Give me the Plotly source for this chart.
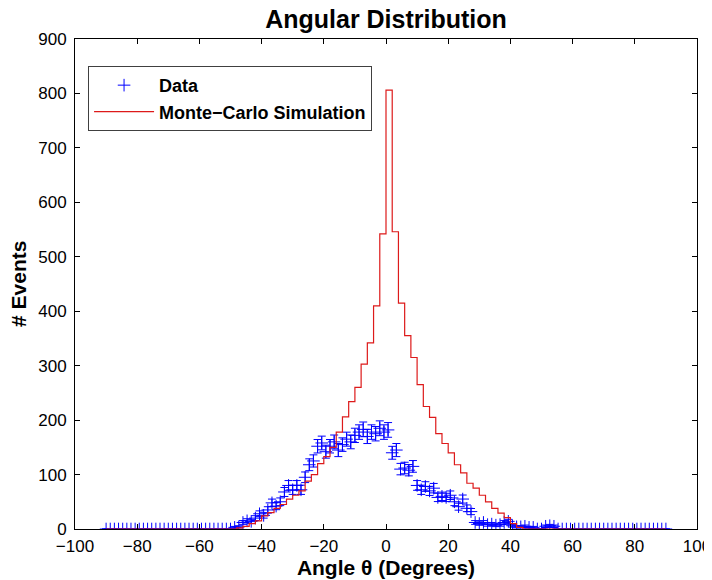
import math
import plotly.graph_objects as go

# ---- Data -----------------------------------------------------------------
# Monte-Carlo histogram: 2-degree bins from -90 to 90 (left edges)
mc_bin_left = list(range(-90, 90, 2))
mc_counts = [0] * 21 + [
    2, 5, 10, 15, 24, 30, 38, 45, 55, 62,
    70, 88, 100, 120, 133, 150, 178, 206, 234, 260,
    303, 342, 410, 542, 806, 546, 415, 355, 315, 265,
    225, 205, 175, 157, 140, 118, 103, 84, 75, 62,
    50, 38, 29, 21, 10, 3,
] + [0] * 23

# Measured data: points every 4/3 degree from -90 to 90
data_angle = [round(-90 + 4 * k / 3, 3) for k in range(136)]
data_counts = [0] * 31 + [
    3, 4, 12, 15, 14, 20, 28, 25, 35, 48,
    42, 50, 68, 80, 72, 80, 72, 95, 118, 125,
    152, 158, 142, 152, 160, 145, 155, 165, 160, 172,
    178, 183, 170, 178, 175, 185, 178, 182, 140, 145,
    110, 112, 108, 115, 80, 72, 78, 70, 75, 58,
    60, 58, 62, 50, 41, 55, 38, 32, 12, 10,
    12, 8, 9, 7, 8, 12, 14, 6, 4, 4,
    5, 3, 3, 0, 0, 5, 6, 5, 0,
]
data_counts += [0] * (len(data_angle) - len(data_counts))
data_err = [math.sqrt(v) for v in data_counts]

x_ticks = list(range(-100, 101, 20))
y_ticks = list(range(0, 901, 100))

# ---- Figure ---------------------------------------------------------------
FONT = "Liberation Sans, Arial, sans-serif"

mc_x = mc_bin_left + [mc_bin_left[-1] + 2]
mc_y = mc_counts + [mc_counts[-1]]

fig = go.Figure()
fig.add_trace(go.Scatter(
    x=data_angle, y=data_counts, mode="markers", name="Data",
    marker=dict(symbol="cross-thin", size=9, color="#0000ff",
                line=dict(color="#0000ff", width=1)),
    error_y=dict(type="data", array=data_err, visible=True,
                 color="#0000ff", thickness=1, width=4),
))
fig.add_trace(go.Scatter(
    x=mc_x, y=mc_y, mode="lines", name="Monte\u2212Carlo Simulation",
    line=dict(color="#dd1a1a", width=1.2, shape="hv"),
))

# the page body adds an 8px offset, so the figure is 704x572
fig.update_layout(
    width=704, height=572,
    margin=dict(l=67, r=15, t=31, b=51),
    paper_bgcolor="white", plot_bgcolor="white",
    font=dict(family=FONT, size=17, color="black"),
    title=dict(text="Angular Distribution", x=0.5, xanchor="center",
               xref="paper", y=1 - 11 / 572, yref="container",
               yanchor="middle",
               font=dict(size=25, weight="bold", family=FONT)),
    legend=dict(x=0.021, y=0.945, xanchor="left", yanchor="top",
                bgcolor="white", bordercolor="#404040", borderwidth=1,
                font=dict(size=18, weight="bold", family=FONT),
                itemwidth=60),
    showlegend=True,
    annotations=[dict(
        text="# Events", textangle=-90, xref="paper", yref="paper",
        x=(18 - 75) / 622, y=0.5, xanchor="center", yanchor="middle",
        showarrow=False, font=dict(size=21, weight="bold", family=FONT),
    )],
)
fig.update_xaxes(
    range=[-100, 100], tickvals=x_ticks, ticks="inside", ticklen=5,
    tickcolor="black", showline=True, linecolor="black", linewidth=1,
    mirror="ticks", showgrid=False, zeroline=False, automargin=False,
    tickfont=dict(size=17), ticklabelstandoff=2,
    title=dict(text="Angle \u03b8 (Degrees)", standoff=4,
               font=dict(size=21, weight="bold")),
)
fig.update_yaxes(
    range=[0, 900], tickvals=y_ticks, ticks="inside", ticklen=5,
    tickcolor="black", showline=True, linecolor="black", linewidth=1,
    mirror="ticks", showgrid=False, zeroline=False, automargin=False,
    tickfont=dict(size=17), ticklabelstandoff=4,
)

fig.write_html("out.html")
